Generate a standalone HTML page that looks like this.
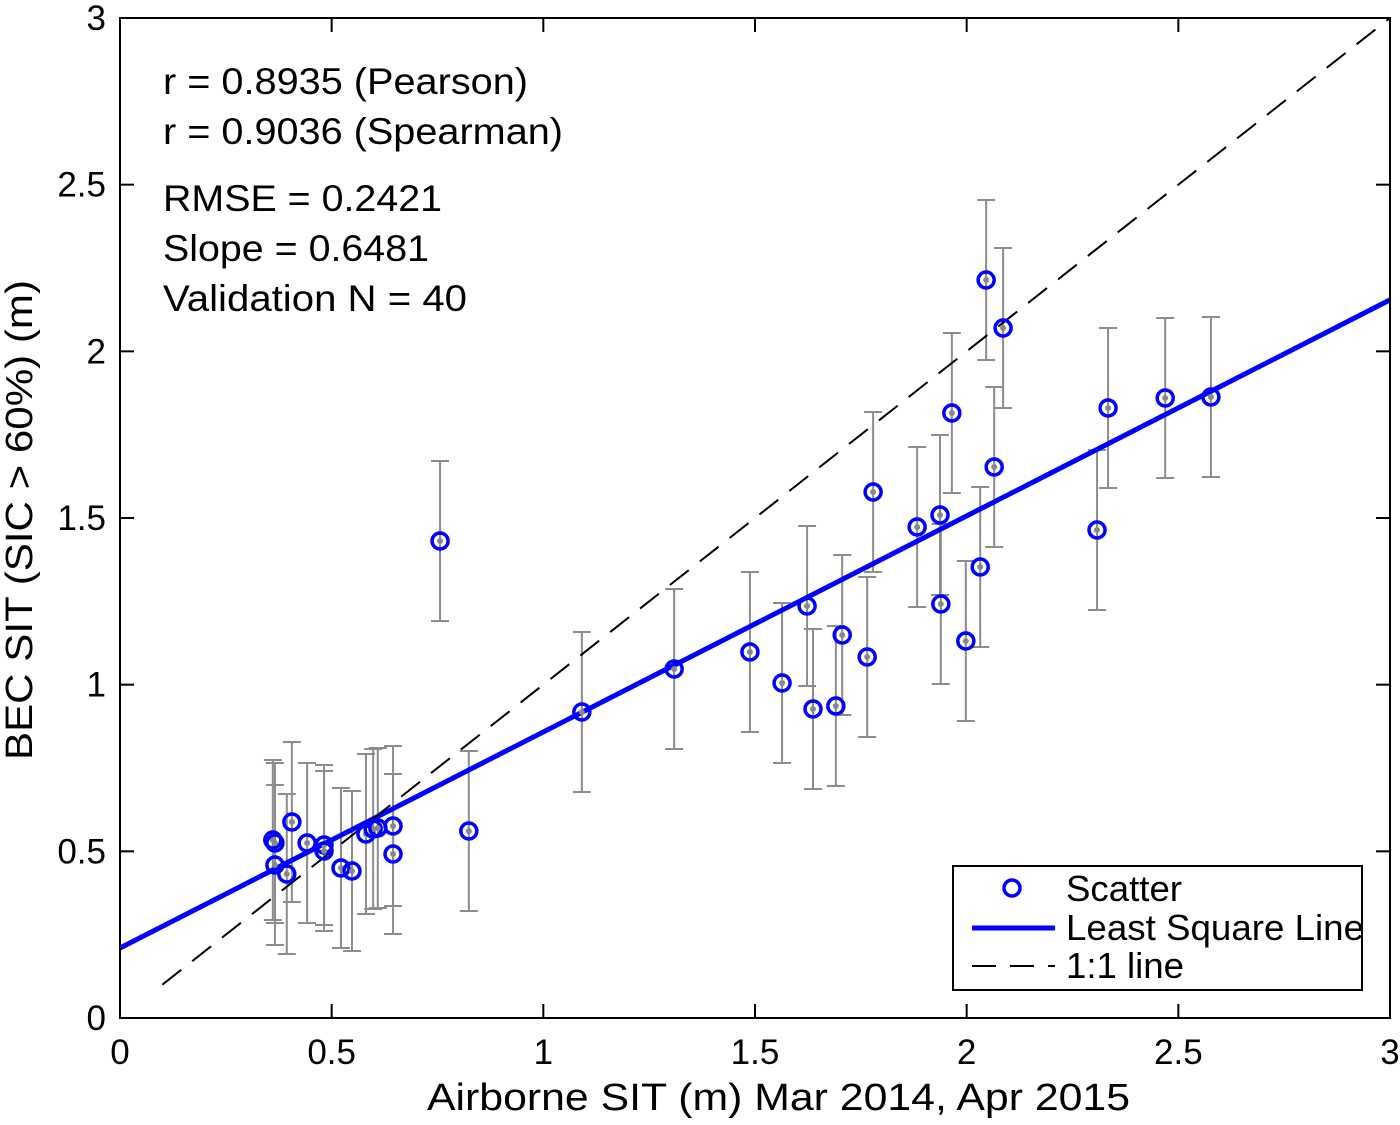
<!DOCTYPE html>
<html><head><meta charset="utf-8"><style>
body{margin:0;background:#fff}
svg text{font-family:"Liberation Sans",Arial,sans-serif;fill:#000}
</style></head><body>
<svg id="chart" width="1400" height="1120" xmlns="http://www.w3.org/2000/svg">
<g id="errs"></g>
<g id="lines"></g>
<g id="pts"></g>
<rect x="120" y="18" width="1270" height="1000" fill="none" stroke="#000" stroke-width="2"/>
<g id="ticks"></g>
<text x="427" y="1110" font-size="38" textLength="703" lengthAdjust="spacingAndGlyphs">Airborne SIT (m) Mar 2014, Apr 2015</text>
<text transform="translate(32,760) rotate(-90)" font-size="38" textLength="480" lengthAdjust="spacingAndGlyphs">BEC SIT (SIC &gt; 60%) (m)</text>
<g font-size="37">
<text x="163" y="94" textLength="365" lengthAdjust="spacingAndGlyphs">r = 0.8935 (Pearson)</text>
<text x="163" y="144" textLength="400" lengthAdjust="spacingAndGlyphs">r = 0.9036 (Spearman)</text>
<text x="163" y="211" textLength="279" lengthAdjust="spacingAndGlyphs">RMSE = 0.2421</text>
<text x="163" y="261" textLength="266" lengthAdjust="spacingAndGlyphs">Slope = 0.6481</text>
<text x="163" y="311" textLength="304" lengthAdjust="spacingAndGlyphs">Validation N = 40</text>
</g>
<g>
<rect x="953" y="866" width="409" height="124" fill="#fff" stroke="#000" stroke-width="2"/>
<circle cx="1012" cy="888" r="8" fill="none" stroke="#00f" stroke-width="3.5"/>
<text x="1066" y="901" font-size="36" textLength="116" lengthAdjust="spacingAndGlyphs">Scatter</text>
<line x1="972" y1="928" x2="1055" y2="928" stroke="#00f" stroke-width="5"/>
<text x="1066" y="940" font-size="36" textLength="298" lengthAdjust="spacingAndGlyphs">Least Square Line</text>
<line x1="972" y1="966" x2="1055" y2="966" stroke="#000" stroke-width="2" stroke-dasharray="24,14"/>
<text x="1066" y="978" font-size="36" textLength="118" lengthAdjust="spacingAndGlyphs">1:1 line</text>
</g>
</svg>
<script>
const xs=[0.361,0.366,0.366,0.394,0.406,0.442,0.482,0.482,0.522,0.548,0.581,0.598,0.609,0.645,0.645,0.824,0.756,1.091,1.309,1.488,1.564,1.623,1.637,1.691,1.706,1.765,1.779,1.883,1.937,1.939,1.965,1.998,2.032,2.046,2.065,2.086,2.308,2.334,2.469,2.577];
const ys=[0.534,0.525,0.459,0.432,0.588,0.525,0.519,0.501,0.450,0.441,0.552,0.567,0.570,0.576,0.492,0.561,1.431,0.918,1.047,1.098,1.005,1.236,0.927,0.936,1.149,1.083,1.578,1.473,1.509,1.242,1.815,1.131,1.353,2.214,1.653,2.070,1.464,1.830,1.860,1.863];
const errs=[0.24,0.24,0.24,0.24,0.24,0.24,0.24,0.24,0.24,0.24,0.24,0.24,0.24,0.24,0.24,0.24,0.24,0.24,0.24,0.24,0.24,0.24,0.24,0.24,0.24,0.24,0.24,0.24,0.24,0.24,0.24,0.24,0.24,0.24,0.24,0.24,0.24,0.24,0.24,0.24];
const fitSlope=0.6481, fitIntercept=0.21;
const xTicks=[0,0.5,1,1.5,2,2.5,3];
const yTicks=[0,0.5,1,1.5,2,2.5,3];
const xTickLabels=["0","0.5","1","1.5","2","2.5","3"];
const yTickLabels=["0","0.5","1","1.5","2","2.5","3"];
const X=v=>120+v*1270/3, Y=v=>1018-v*1000/3;
const NS="http://www.w3.org/2000/svg";
function mk(tag,attrs,parent){const e=document.createElementNS(NS,tag);for(const k in attrs)e.setAttribute(k,attrs[k]);parent.appendChild(e);return e;}
const gE=document.getElementById('errs'),gP=document.getElementById('pts'),gL=document.getElementById('lines'),gT=document.getElementById('ticks');
xs.forEach((x,i)=>{
  const cx=X(x),y1=Y(ys[i]+errs[i]),y2=Y(ys[i]-errs[i]);
  const g=mk('g',{stroke:'#8c8c8c','stroke-width':2},gE);
  
  
  mk('line',{x1:cx,x2:cx,y1:y1,y2:y2},g);
  mk('line',{x1:cx-9,x2:cx+9,y1:y1,y2:y1},g);
  mk('line',{x1:cx-9,x2:cx+9,y1:y2,y2:y2},g);
});
const fit=mk('line',{x1:X(0),y1:Y(fitIntercept),x2:X(3),y2:Y(fitIntercept+3*fitSlope),stroke:'#00f','stroke-width':5},gL);


const one=mk('line',{x1:X(0.1),y1:Y(0.1),x2:X(3),y2:Y(3),stroke:'#000','stroke-width':2,'stroke-dasharray':'24,14'},gL);


xs.forEach((x,i)=>{
  const c=mk('circle',{cx:X(x),cy:Y(ys[i]),r:8,fill:'none',stroke:'#00f','stroke-width':3.5},gP);
  
  
  mk('circle',{cx:X(x),cy:Y(ys[i]),r:3,fill:'#888'},gP);
});
xTicks.forEach((t,i)=>{
  const x=X(t);
  mk('line',{x1:x,x2:x,y1:1018,y2:1004,stroke:'#000','stroke-width':2},gT);
  mk('line',{x1:x,x2:x,y1:18,y2:32,stroke:'#000','stroke-width':2},gT);
  const tx=mk('text',{x:x,y:1064,'font-size':35,'text-anchor':'middle'},gT);
  tx.textContent=xTickLabels[i];
  
  
});
yTicks.forEach((t,i)=>{
  const y=Y(t);
  mk('line',{x1:120,x2:134,y1:y,y2:y,stroke:'#000','stroke-width':2},gT);
  mk('line',{x1:1376,x2:1390,y1:y,y2:y,stroke:'#000','stroke-width':2},gT);
  const tx=mk('text',{x:106,y:y+12,'font-size':35,'text-anchor':'end'},gT);
  tx.textContent=yTickLabels[i];
  
  
});
</script>
</body></html>
